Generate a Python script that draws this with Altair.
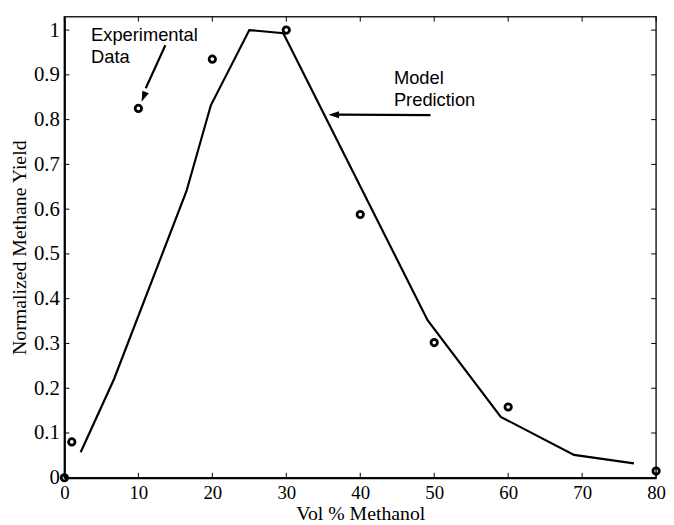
import altair as alt
import pandas as pd

# Experimental data
exp_x = [0, 1, 10, 20, 30, 40, 50, 60, 80]
exp_y = [0.0, 0.08, 0.825, 0.935, 1.0, 0.588, 0.302, 0.158, 0.015]

# Model prediction
mod_x = [2.2, 6.7, 16.5, 19.8, 25.0, 29.6, 49.1, 59.0, 68.9, 77.0]
mod_y = [0.057, 0.22, 0.64, 0.832, 1.0, 0.993, 0.352, 0.136, 0.051, 0.032]

x_ticks = [0, 10, 20, 30, 40, 50, 60, 70, 80]
y_ticks = [0, 0.1, 0.2, 0.3, 0.4, 0.5, 0.6, 0.7, 0.8, 0.9, 1]

W, H = 598, 466
SERIF = "Liberation Serif"
SANS = "Liberation Sans"

xs = alt.Scale(domain=[0, 80], nice=False, zero=False)
ys = alt.Scale(domain=[0, 1.03], nice=False, zero=False)

x_axis = alt.Axis(values=x_ticks, title="Vol % Methanol", grid=False, ticks=False, tickSize=0,
                  labelFont=SERIF, labelFontSize=19, labelColor="black", labelPadding=6,
                  titleFont=SERIF, titleFontSize=20, titleFontWeight="normal", titleColor="black",
                  titlePadding=1, domainColor="black", domainWidth=2, labelFlush=False)
y_axis = alt.Axis(values=y_ticks, format="~g", title="Normalized Methane Yield", grid=False,
                  ticks=False, tickSize=0,
                  labelFont=SERIF, labelFontSize=21, labelColor="black", labelPadding=5,
                  titleFont=SERIF, titleFontSize=20, titleFontWeight="normal", titleColor="black",
                  titlePadding=4, domainColor="black", domainWidth=2, labelFlush=False)

model_df = pd.DataFrame({"x": mod_x, "y": mod_y})
exp_df = pd.DataFrame({"x": exp_x, "y": exp_y})

line = alt.Chart(model_df).mark_line(color="black", strokeWidth=2.2, clip=False).encode(
    x=alt.X("x:Q", scale=xs, axis=x_axis),
    y=alt.Y("y:Q", scale=ys, axis=y_axis),
)

pts = alt.Chart(exp_df).mark_point(shape="circle", filled=False, color="black",
                                   strokeWidth=2.8, size=42, opacity=1).encode(
    x=alt.X("x:Q", scale=xs),
    y=alt.Y("y:Q", scale=ys),
)

# Annotations
ann_df = pd.DataFrame({
    "x": [3.6, 44.55],
    "y": [0.975, 0.880],
    "t": [["Experimental", "Data"], ["Model", "Prediction"]],
})
texts = alt.Chart(ann_df).mark_text(align="left", baseline="alphabetic", font=SANS,
                                    fontSize=18.5, lineHeight=22, color="black").encode(
    x=alt.X("x:Q", scale=xs), y=alt.Y("y:Q", scale=ys), text="t")

arrow_df = pd.DataFrame({
    "x": [13.65, 49.5], "y": [0.966, 0.810],
    "x2": [11.0, 37.0], "y2": [0.87, 0.811],
})
arrow_lines = alt.Chart(arrow_df).mark_rule(color="black", strokeWidth=2.2).encode(
    x=alt.X("x:Q", scale=xs), y=alt.Y("y:Q", scale=ys), x2="x2:Q", y2="y2:Q")

head_df = pd.DataFrame({"x": [10.43, 35.7], "y": [0.84, 0.811], "a": [202.8, 270]})
heads = alt.Chart(head_df).mark_point(
    shape="M0,0 L0.6,1.8 L-0.6,1.8 Z", filled=True, color="black", size=140, opacity=1
).encode(x=alt.X("x:Q", scale=xs), y=alt.Y("y:Q", scale=ys), angle=alt.Angle("a:Q", scale=None))

# Inward ticks on all four sides
xt_df = pd.DataFrame({"x": x_ticks})
yt_df = pd.DataFrame({"y": y_ticks})
TL = 5
xt_bot = alt.Chart(xt_df).mark_rule(color="black", strokeWidth=1).encode(
    x=alt.X("x:Q", scale=xs), y=alt.value(H), y2=alt.value(H - TL))
xt_top = alt.Chart(xt_df).mark_rule(color="black", strokeWidth=1).encode(
    x=alt.X("x:Q", scale=xs), y=alt.value(0), y2=alt.value(TL))
yt_left = alt.Chart(yt_df).mark_rule(color="black", strokeWidth=1).encode(
    y=alt.Y("y:Q", scale=ys), x=alt.value(0), x2=alt.value(TL))
yt_right = alt.Chart(yt_df).mark_rule(color="black", strokeWidth=1).encode(
    y=alt.Y("y:Q", scale=ys), x=alt.value(W), x2=alt.value(W - TL))

chart = alt.layer(line, xt_bot, xt_top, yt_left, yt_right, arrow_lines, heads, texts, pts).properties(
    width=W, height=H,
    autosize=alt.AutoSizeParams(type="none"),
    padding={"left": 57, "top": 6, "right": 10, "bottom": 45},
    background="white",
).configure_view(stroke="#222", strokeWidth=1.5)

chart.save("out.html", embed_options={"renderer": "svg", "actions": False})
